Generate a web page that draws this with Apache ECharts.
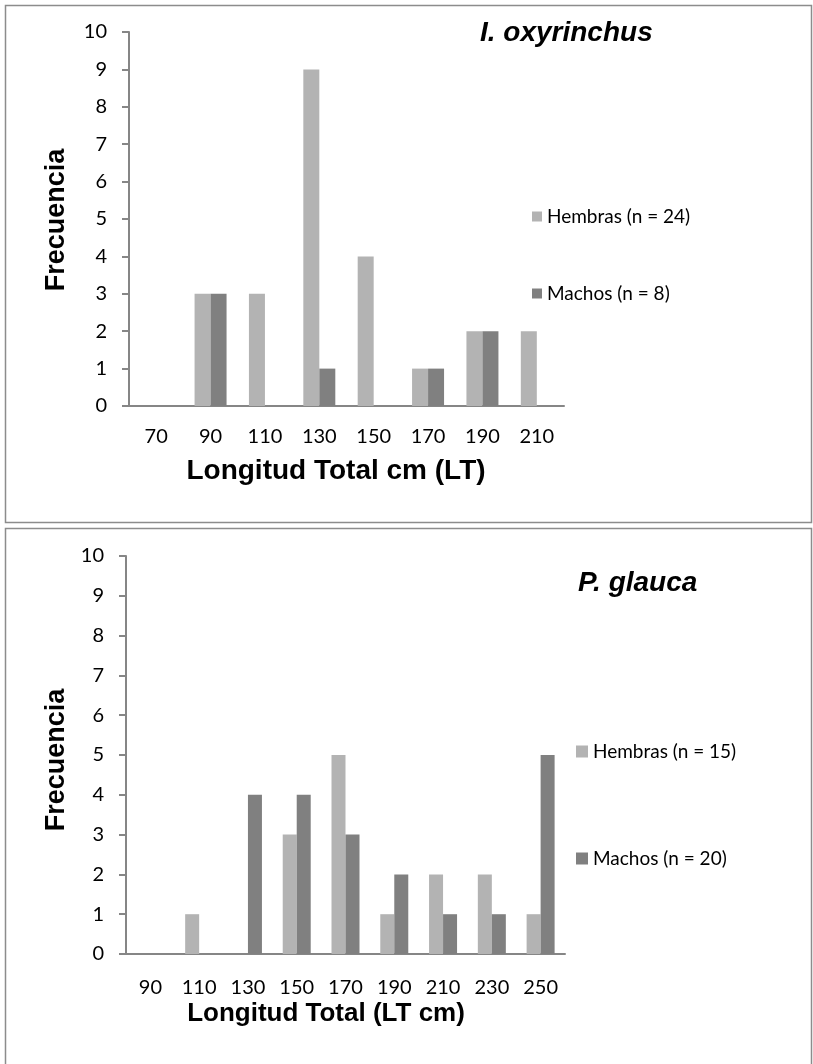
<!DOCTYPE html>
<html>
<head>
<meta charset="utf-8">
<script src="https://cdn.jsdelivr.net/npm/echarts@6/dist/echarts.min.js"></script>
<style>
html,body{margin:0;padding:0;background:#fff;}
#c{width:813px;height:1064px;}
</style>
</head>
<body>
<div id="c"></div>
<script>
// Top chart: I. oxyrinchus
const catsTop = ['70','90','110','130','150','170','190','210'];
const hembrasTop = [0,3,3,9,4,1,2,2];
const machosTop = [0,3,0,1,0,1,2,0];
const nameHTop = 'Hembras (n = 24)';
const nameMTop = 'Machos (n = 8)';
// Bottom chart: P. glauca
const catsBot = ['90','110','130','150','170','190','210','230','250'];
const hembrasBot = [0,1,0,3,5,1,2,2,1];
const machosBot = [0,0,4,4,3,2,1,1,5];
const nameHBot = 'Hembras (n = 15)';
const nameMBot = 'Machos (n = 20)';
const yTicks = [0,1,2,3,4,5,6,7,8,9,10];

const cH = '#b3b3b3', cM = '#808080', axisC = '#868686';
const tickFont = {fontFamily:'Lato', fontSize:20, color:'#000'};

function yAxis(gi, margin){
  return {type:'value', gridIndex:gi, min:0, max:10, interval:1,
    axisLine:{show:true, lineStyle:{color:axisC, width:2}},
    axisTick:{show:true, length:7, lineStyle:{color:axisC, width:2}},
    splitLine:{show:false},
    axisLabel:Object.assign({margin:margin, formatter:v=>yTicks.includes(v)?String(v):''}, tickFont)};
}
function xAxis(gi, cats, margin){
  return {type:'category', gridIndex:gi, data:cats,
    axisLine:{lineStyle:{color:axisC, width:2}},
    axisTick:{show:false},
    axisLabel:Object.assign({margin:margin, interval:0}, tickFont)};
}
function bar(name, data, gi, color, w){
  return {type:'bar', name:name, data:data, xAxisIndex:gi, yAxisIndex:gi,
    barWidth:w, barGap:'0%', itemStyle:{color:color}, silent:true, animation:false};
}

const option = {
  animation:false,
  grid:[
    {left:129, width:435, top:32, height:374},
    {left:126, width:439, top:556, height:398}
  ],
  xAxis:[xAxis(0,catsTop,21), xAxis(1,catsBot,24)],
  yAxis:[yAxis(0,22), yAxis(1,22)],
  legend:[
    {data:[nameHTop,nameMTop], orient:'vertical', left:532, top:207, itemGap:58, padding:0,
     icon:'rect', itemWidth:10, itemHeight:10, itemStyle:{borderWidth:0}, textStyle:{fontFamily:'Lato', fontSize:19, color:'#000'}, selectedMode:false},
    {data:[nameHBot,nameMBot], orient:'vertical', left:576, top:742, itemGap:88, padding:0,
     icon:'rect', itemWidth:12, itemHeight:12, itemStyle:{borderWidth:0}, textStyle:{fontFamily:'Lato', fontSize:19, color:'#000'}, selectedMode:false}
  ],
  series:[
    bar(nameHTop, hembrasTop, 0, cH, 16),
    bar(nameMTop, machosTop, 0, cM, 16),
    bar(nameHBot, hembrasBot, 1, cH, 14),
    bar(nameMBot, machosBot, 1, cM, 14)
  ],
  graphic:[
    {type:'rect', shape:{x:5.5,y:5.5,width:806,height:517}, style:{fill:null, stroke:'#8c8c8c', lineWidth:1.5}},
    {type:'rect', shape:{x:5.5,y:528.5,width:806,height:540}, style:{fill:null, stroke:'#8c8c8c', lineWidth:1.5}},
    {type:'text', x:480, y:33, style:{text:'I. oxyrinchus', font:'italic bold 28px "Liberation Sans"', fill:'#000', verticalAlign:'middle'}},
    {type:'text', x:578, y:583, style:{text:'P. glauca', font:'italic bold 28px "Liberation Sans"', fill:'#000', verticalAlign:'middle'}},
    {type:'text', x:336, y:471, style:{text:'Longitud Total cm (LT)', font:'bold 28px "Liberation Sans"', fill:'#000', align:'center', verticalAlign:'middle'}},
    {type:'text', x:326, y:1014, style:{text:'Longitud Total (LT cm)', font:'bold 26px "Liberation Sans"', fill:'#000', align:'center', verticalAlign:'middle'}},
    {type:'text', x:57, y:220, rotation:Math.PI/2, style:{text:'Frecuencia', font:'bold 27px "Liberation Sans"', fill:'#000', align:'center', verticalAlign:'middle'}},
    {type:'text', x:57, y:760, rotation:Math.PI/2, style:{text:'Frecuencia', font:'bold 27px "Liberation Sans"', fill:'#000', align:'center', verticalAlign:'middle'}}
  ]
};
const chart = echarts.init(document.getElementById('c'), null, {renderer:'canvas'});
chart.setOption(option);
</script>
</body>
</html>
